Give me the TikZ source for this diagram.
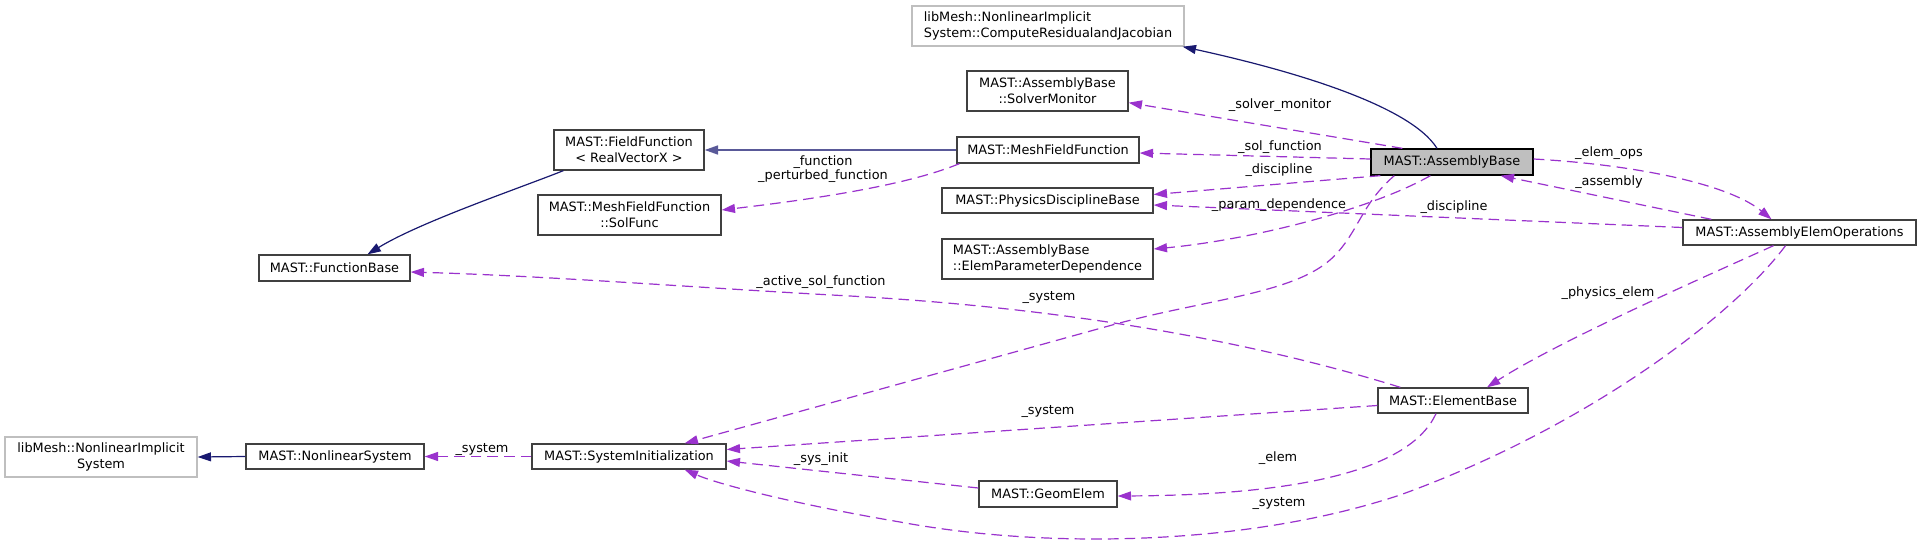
\documentclass[tikz,border=0pt]{standalone}
\usepackage{fontspec}
\setmainfont{DejaVu Sans}
\usetikzlibrary{arrows.meta,calc}
\definecolor{edgeblue}{HTML}{191970}
\definecolor{edgepurple}{HTML}{9A32CD}
\definecolor{boxborder}{HTML}{404040}
\definecolor{greyborder}{HTML}{BFBFBF}
\begin{document}
\begin{tikzpicture}[x=0.75pt,y=-0.75pt,
  font=\fontsize{9.65}{12}\selectfont,
  cls/.style={draw=boxborder, line width=1pt, fill=white, inner sep=0pt, text=black, align=center},
  extcls/.style={cls, draw=greyborder},
  curcls/.style={cls, fill=greyborder, draw=black},
  inh/.style={draw=edgeblue, line width=0.9pt, -{Triangle[length=10pt,width=6.7pt]}},
  use/.style={draw=edgepurple, line width=0.9pt, dash pattern=on 8pt off 4.5pt, -{Triangle[length=10pt,width=6.7pt]}},
  lbl/.style={inner sep=0pt, text=black, align=center}]
\useasboundingbox (0,0) rectangle (1921,546);
\fill[white] (0,0) rectangle (1921,546);
% nodes
\node[extcls, align=left, minimum width=204pt, minimum height=30pt] (crj) at (1048,26) {libMesh::NonlinearImplicit\\System::ComputeResidualandJacobian};
\node[cls, minimum width=120.75pt, minimum height=30pt] (sm) at (1047.5,91) {MAST::AssemblyBase\\::SolverMonitor};
\node[cls, minimum width=136.5pt, minimum height=19.5pt] (mff) at (1048,150) {MAST::MeshFieldFunction};
\node[cls, minimum width=158.25pt, minimum height=18.75pt] (pdb) at (1047.5,200.5) {MAST::PhysicsDisciplineBase};
\node[cls, align=left, minimum width=158.25pt, minimum height=30pt] (epd) at (1047.5,259) {MAST::AssemblyBase\\::ElemParameterDependence};
\node[curcls, minimum width=121.5pt, minimum height=19.5pt] (ab) at (1452,162) {MAST::AssemblyBase};
\node[cls, minimum width=174.75pt, minimum height=18.75pt] (aeo) at (1799.5,232.5) {MAST::AssemblyElemOperations};
\node[cls, minimum width=112.5pt, minimum height=30pt] (ff) at (629,150) {MAST::FieldFunction\\< RealVectorX >};
\node[cls, minimum width=137.25pt, minimum height=30pt] (sf) at (629.5,215) {MAST::MeshFieldFunction\\::SolFunc};
\node[cls, minimum width=113.25pt, minimum height=19.5pt] (fb) at (334.5,268) {MAST::FunctionBase};
\node[extcls, minimum width=144pt, minimum height=30pt] (nis) at (101,457) {libMesh::NonlinearImplicit\\System};
\node[cls, minimum width=133.5pt, minimum height=18.75pt] (ns) at (335,456.5) {MAST::NonlinearSystem};
\node[cls, minimum width=145.5pt, minimum height=18.75pt] (si) at (629,456.5) {MAST::SystemInitialization};
\node[cls, minimum width=112.5pt, minimum height=18.75pt] (eb) at (1453,400.5) {MAST::ElementBase};
\node[cls, minimum width=103.5pt, minimum height=19.5pt] (ge) at (1048,494) {MAST::GeomElem};
% inheritance edges
\draw[inh] ($(ab.north)+(-15,0)$) .. controls (1410,105) and (1290,70) .. ($(crj.south east)+(-2,0)$);
\draw[inh, draw=edgeblue!72!white, line width=1.3pt] (mff.west) -- (ff.east);
\draw[inh] ($(ff.south west)+(10,0)$) .. controls (520,188) and (420,222) .. ($(fb.north)+(33,0)$);
\draw[inh] (ns.west) -- (nis.east);
% usage edges
\draw[use] ($(ab.north west)+(32,0)$) -- ($(sm.south east)+(0,-9)$);
\draw[use] ($(ab.west)+(0,-3)$) -- ($(mff.east)+(0,3)$);
\draw[use] ($(ab.south west)+(10,0)$) -- ($(pdb.east)+(0,-6)$);
\draw[use] ($(aeo.west)+(0,-5)$) -- ($(pdb.east)+(0,4.5)$);
\draw[use] ($(ab.south west)+(60,0)$) .. controls (1370,210) and (1250,240) .. ($(epd.east)+(0,-10)$);
\draw[use] ($(ab.south west)+(24,0)$) .. controls (1360,205) and (1358,235) .. (1330,260) .. controls (1290,295) and (1200,300) .. (1105,327) -- ($(si.north east)+(-42,0)$);
\draw[use] ($(aeo.north west)+(29,0)$) -- ($(ab.south east)+(-33,0)$);
\draw[use] ($(ab.east)+(0,-3)$) .. controls (1640,165) and (1730,185) .. ($(aeo.north)+(-28,0)$);
\draw[use] ($(aeo.south)+(-26,0)$) .. controls (1720,270) and (1560,340) .. ($(eb.north)+(34,0)$);
\draw[use] ($(aeo.south)+(-14,0)$) .. controls (1730,320) and (1580,430) .. (1400,495) .. controls (1250,545) and (1050,550) .. (900,522) .. controls (800,505) and (720,485) .. ($(si.south east)+(-42,0)$);
\draw[use] ($(eb.north west)+(23,0)$) .. controls (1280,350) and (1100,310) .. (850,296) .. controls (700,288) and (550,276) .. ($(fb.east)+(0,4)$);
\draw[use] ($(eb.west)+(0,5)$) -- ($(si.east)+(0,-7)$);
\draw[use] ($(ge.west)+(0,-6)$) -- ($(si.east)+(0,4.5)$);
\draw[use] ($(eb.south)+(-17,0)$) .. controls (1410,470) and (1300,495) .. ($(ge.east)+(0,2)$);
\draw[use] ($(mff.south west)+(3,0)$) .. controls (920,180) and (850,195) .. ($(sf.east)+(0,-5)$);
\draw[use] (si.west) -- (ns.east);
% labels
\node[lbl] (l1) at (1280,105) {\_solver\_monitor};
\node[lbl] (l2) at (1280,147) {\_sol\_function};
\node[lbl] (l3) at (1279,170) {\_discipline};
\node[lbl] (l4) at (1279,205) {\_param\_dependence};
\node[lbl] (l5) at (1454,207) {\_discipline};
\node[lbl] (l6) at (1609,153) {\_elem\_ops};
\node[lbl] (l7) at (1609,182) {\_assembly};
\node[lbl] (l8) at (1608,293) {\_physics\_elem};
\node[lbl, font=\fontsize{9.65}{11}\selectfont] (l9) at (823,169) {\_function\\\_perturbed\_function};
\node[lbl] (l10) at (821,282) {\_active\_sol\_function};
\node[lbl] (l11) at (1049,297) {\_system};
\node[lbl] (l12) at (1048,411) {\_system};
\node[lbl] (l13) at (821,459) {\_sys\_init};
\node[lbl] (l14) at (1278,458) {\_elem};
\node[lbl] (l15) at (1279,503) {\_system};
\node[lbl] (l16) at (482,449) {\_system};
\end{tikzpicture}
\end{document}
